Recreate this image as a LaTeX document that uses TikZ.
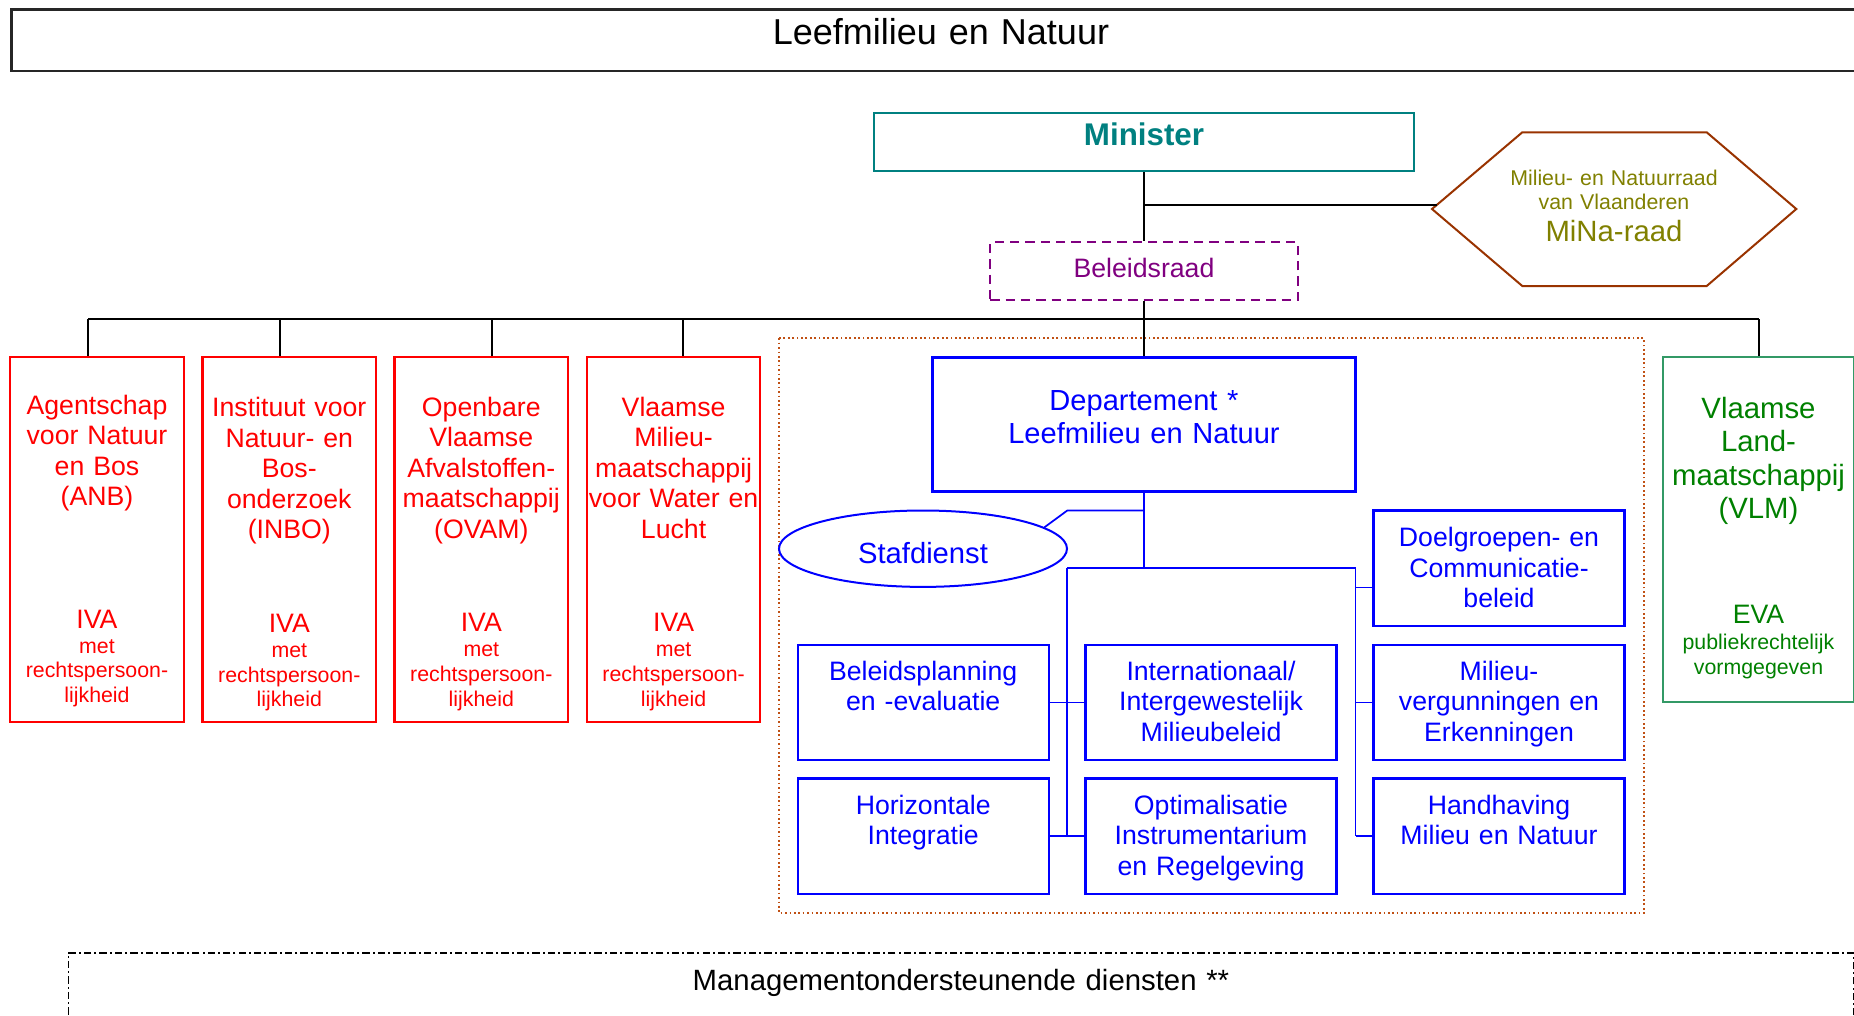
\documentclass[tikz,border=0pt]{standalone}
\usepackage{fontspec}
\setmainfont{Liberation Sans}
\usetikzlibrary{shapes.geometric,calc}

\definecolor{tealmin}{RGB}{0,128,128}
\definecolor{hexbrown}{RGB}{153,51,0}
\definecolor{olivetxt}{RGB}{128,128,0}
\definecolor{purplebr}{RGB}{128,0,128}
\definecolor{areabrown}{RGB}{192,80,20}
\definecolor{vlmedge}{RGB}{51,153,102}
\definecolor{vlmtxt}{RGB}{0,128,0}

\newcommand{\orgmain}{\fontsize{20}{22.9}\selectfont}
\newcommand{\orgsmall}{\fontsize{16}{18.6}\selectfont}
\newcommand{\orglarge}{\fontsize{22}{25.1}\selectfont}

\begin{document}
\begin{tikzpicture}[x=0.75pt,y=0.75pt,yscale=-1,
  box/.style={draw, line width=1.6pt, inner sep=0pt},
  txt/.style={inner sep=0pt, anchor=base, align=center, text width=230pt},
  lnk/.style={line width=1.5pt},
  blnk/.style={draw=blue, line width=1.3pt}]
\useasboundingbox (0,0) rectangle (1854,1015);

% Title Frame
\node[box, draw=black!85, line width=1.8pt, minimum width=1393.9pt, minimum height=46.1pt] (frame) at (940.75,40.25) {};
\node[txt, text width=500pt, font=\fontsize{27}{31}\selectfont] (title) at (941,44) {Leefmilieu en Natuur};

% Minister
\node[box, draw=tealmin, minimum width=404.4pt, minimum height=43.3pt] (minister) at (1144,142.2) {};
\node[txt, text=tealmin, font=\bfseries\fontsize{23.5}{27}\selectfont] (minister-t) at (1144,145) {Minister};

% MiNa-raad hexagon
\draw[draw=hexbrown, line width=1.5pt] (1432,209) -- (1522.3,132.3) -- (1706.7,132.3) -- (1796.3,209) -- (1706.7,286) -- (1522.3,286) -- cycle;
\node[txt, text=olivetxt, font=\fontsize{16}{18.2}\selectfont] (mina-t) at (1614,185) {Milieu- en Natuurraad\\van Vlaanderen};
\node[txt, text=olivetxt, font=\fontsize{22}{25}\selectfont] (mina) at (1614,241.7) {MiNa-raad};
\coordinate (mina-in) at (1437,205);

% Beleidsraad
\node[box, draw=purplebr, dash pattern=on 7pt off 4.5pt, minimum width=230.6pt, minimum height=43.5pt] (beleid) at (1144,271.3) {};
\node[txt, text=purplebr, font=\orgmain] (beleid-t) at (1144,277.7) {Beleidsraad};

% Agencies
\node[box, draw=red, minimum width=130.2pt, minimum height=273.75pt] (anb) at (97,539.8) {};
\node[box, draw=red, minimum width=130.2pt, minimum height=273.75pt] (inbo) at (289.3,539.8) {};
\node[box, draw=red, minimum width=130.2pt, minimum height=273.75pt] (ovam) at (481.3,539.8) {};
\node[box, draw=red, minimum width=130.2pt, minimum height=273.75pt] (vmm) at (673.6,539.8) {};
\node[txt, text=red, font=\orgmain] (anb-t) at (97,414) {Agentschap\\voor Natuur\\en Bos\\(ANB)};
\node[txt, text=red, font=\orgmain] (inbo-t) at (289.3,416.5) {Instituut voor\\Natuur- en\\Bos-\\onderzoek\\(INBO)};
\node[txt, text=red, font=\orgmain] (ovam-t) at (481.3,416) {Openbare\\Vlaamse\\Afvalstoffen-\\maatschappij\\(OVAM)};
\node[txt, text=red, font=\orgmain] (vmm-t) at (673.6,416) {Vlaamse\\Milieu-\\maatschappij\\voor Water en\\Lucht};
\node[txt, text=red, font=\orgmain] (anb-iva) at (97,628.3) {IVA};
\node[txt, text=red, font=\orgmain] (inbo-iva) at (289.3,632.3) {IVA};
\node[txt, text=red, font=\orgmain] (ovam-iva) at (481.3,631.7) {IVA};
\node[txt, text=red, font=\orgmain] (vmm-iva) at (673.6,631.7) {IVA};
\node[txt, text=red, font=\orgsmall] (anb-rp) at (97,653) {met\\rechtspersoon-\\lijkheid};
\node[txt, text=red, font=\orgsmall] (inbo-rp) at (289.3,657.3) {met\\rechtspersoon-\\lijkheid};
\node[txt, text=red, font=\orgsmall] (ovam-rp) at (481.3,656.5) {met\\rechtspersoon-\\lijkheid};
\node[txt, text=red, font=\orgsmall] (vmm-rp) at (673.6,656.5) {met\\rechtspersoon-\\lijkheid};

% Department area
\draw[draw=areabrown, line width=1.3pt, dash pattern=on 1.3pt off 2pt] (779,338.3) rectangle (1644,913);

% Departement
\node[box, draw=blue, minimum width=317.25pt, minimum height=100.5pt] (dept) at (1144,424.5) {};
\node[txt, text=blue, font=\fontsize{21.8}{25.1}\selectfont] (dept-t) at (1144,410.2) {Departement *\\Leefmilieu en Natuur};

% Stafdienst
\node[draw=blue, ellipse, line width=1.5pt, minimum width=216pt, minimum height=57.3pt, inner sep=0pt] (staf) at (923,548.7) {};
\node[txt, text=blue, font=\fontsize{21.9}{25}\selectfont] (staf-t) at (923,563.6) {Stafdienst};

% Divisions
\node[box, draw=blue, minimum width=188.2pt, minimum height=86.5pt] (bp) at (923.2,702.6) {};
\node[box, draw=blue, minimum width=188.2pt, minimum height=86.5pt] (hi) at (923.2,836.1) {};
\node[box, draw=blue, minimum width=188.2pt, minimum height=86.5pt] (ii) at (1211,702.6) {};
\node[box, draw=blue, minimum width=188.2pt, minimum height=86.5pt] (oi) at (1211,836.1) {};
\node[box, draw=blue, minimum width=188.2pt, minimum height=86.5pt] (dc) at (1499,568.2) {};
\node[box, draw=blue, minimum width=188.2pt, minimum height=86.5pt] (mv) at (1499,702.6) {};
\node[box, draw=blue, minimum width=188.2pt, minimum height=86.5pt] (hm) at (1499,836.1) {};
\node[txt, text=blue, font=\orgmain] (dc-t) at (1499,546.8) {Doelgroepen- en\\Communicatie-\\beleid};
\node[txt, text=blue, font=\orgmain] (bp-t) at (923.2,680.4) {Beleidsplanning\\en -evaluatie};
\node[txt, text=blue, font=\orgmain] (ii-t) at (1211,680.4) {Internationaal/\\Intergewestelijk\\Milieubeleid};
\node[txt, text=blue, font=\orgmain] (mv-t) at (1499,680.4) {Milieu-\\vergunningen en\\Erkenningen};
\node[txt, text=blue, font=\orgmain] (hi-t) at (923.2,814) {Horizontale\\Integratie};
\node[txt, text=blue, font=\orgmain] (oi-t) at (1211,814) {Optimalisatie\\Instrumentarium\\en Regelgeving};
\node[txt, text=blue, font=\orgmain] (hm-t) at (1499,814) {Handhaving\\Milieu en Natuur};

% VLM
\node[box, draw=vlmedge, minimum width=143.7pt, minimum height=258.5pt] (vlm) at (1758.5,529.7) {};
\node[txt, text=vlmtxt, font=\orglarge] (vlm-t) at (1758.5,418.5) {Vlaamse\\Land-\\maatschappij\\(VLM)};
\node[txt, text=vlmtxt, font=\orgmain] (vlm-eva) at (1758.5,623.9) {EVA};
\node[txt, text=vlmtxt, font=\fontsize{16}{18.4}\selectfont] (vlm-pr) at (1758.5,649.8) {publiekrechtelijk\\vormgegeven};

% Management services
\node[draw, line width=1.3pt, dash pattern=on 5.5pt off 2.3pt on 1.5pt off 2.3pt, minimum width=1338.75pt, minimum height=65.5pt, inner sep=0pt] (mgmt) at (961,996.35) {};
\node[txt, text width=600pt, font=\orglarge] (mgmt-t) at (961,990.7) {Managementondersteunende diensten **};

% Connection
\draw[lnk] (minister.south) -- (beleid.north);
\draw[lnk] (minister.south |- mina-in) -- (mina-in);
\draw[lnk] (beleid.south) -- (dept.north);
\coordinate (bus-w) at (88,319);
\coordinate (bus-e) at (1758.5,319);
\draw[lnk] (bus-w) -- (bus-e);
\draw[lnk] (bus-w) -- (bus-w |- anb.north);
\coordinate (d-inbo) at (280,319);
\draw[lnk] (d-inbo) -- (d-inbo |- inbo.north);
\coordinate (d-ovam) at (491.5,319);
\draw[lnk] (d-ovam) -- (d-ovam |- ovam.north);
\coordinate (d-vmm) at (683,319);
\draw[lnk] (d-vmm) -- (d-vmm |- vmm.north);
\draw[lnk] (bus-e) -- (vlm.north);

% Connection (department)
\coordinate (kink) at (1067.3,510.5);
\coordinate (lb) at (1067.3,567.8);
\coordinate (rb) at (1355.6,567.8);
\draw[blnk] (dept.south) -- (dept.south |- lb);
\draw[blnk] (dept.south |- kink) -- (kink) -- (staf.10);
\draw[blnk] (lb) -- (rb);
\draw[blnk] (lb) -- (lb |- hi.east);
\draw[blnk] (rb) -- (rb |- hm.west);
\draw[blnk] (bp.east) -- (ii.west);
\draw[blnk] (hi.east) -- (oi.west);
\coordinate (dc-in) at ($(dc.west)+(0,19.4)$);
\draw[blnk] (dc-in) -- (dc-in -| rb);
\draw[blnk] (mv.west) -- (mv.west -| rb);
\draw[blnk] (hm.west) -- (hm.west -| rb);

\end{tikzpicture}
\end{document}
